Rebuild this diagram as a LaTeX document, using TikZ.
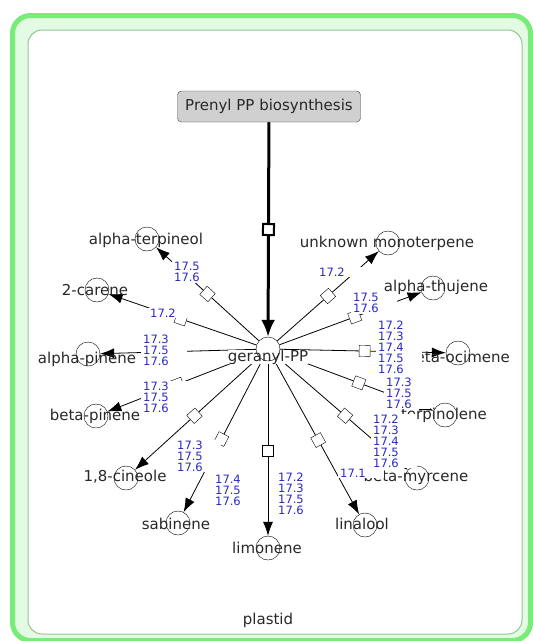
\documentclass[tikz,border=0pt]{standalone}
\usepackage{fontspec}
\setmainfont{DejaVu Sans}
\usepackage{tikz}
\usetikzlibrary{arrows.meta,positioning}
\pgfdeclarelayer{background}
\pgfsetlayers{background,main}

\definecolor{ecblue}{RGB}{40,40,200}
\definecolor{plgreen}{RGB}{120,235,120}
\definecolor{plband}{RGB}{226,251,226}
\definecolor{plline}{RGB}{150,195,150}
\definecolor{pathgray}{RGB}{208,208,208}
\definecolor{txtgray}{RGB}{40,40,40}

\begin{document}
\begin{tikzpicture}[x=1pt,y=-1pt,>={Latex[length=14pt,width=10pt]},line width=0.8pt]
\tikzstyle{spec} = [circle,draw=black,minimum size=24pt,inner sep=0pt]
\tikzstyle{spname} = [text=txtgray,font=\fontsize{15}{18}\selectfont,inner sep=0pt]
\tikzstyle{proc} = [draw=black,fill=white,minimum size=11pt,inner sep=0pt,sloped]
\tikzstyle{ec} = [anchor=west,fill=white,text=ecblue,text width=42pt,align=left,inner xsep=2pt,inner ysep=1pt,font=\fontsize{11.5}{11}\selectfont]
\useasboundingbox (0,0) rectangle (533,641);

% plastid
\begin{pgfonlayer}{background}
\draw[plgreen,line width=5pt,fill=plband,rounded corners=18pt] (12.5,15.5) rectangle (530.5,640.5);
\draw[plline,line width=1pt,fill=white,rounded corners=14pt] (28,30) rectangle (522,634);
\end{pgfonlayer}
\node[spname] (plastid) at (268,620) {plastid};

\node[draw=black!75,fill=pathgray,rounded corners=4pt,minimum width=183pt,minimum height=31pt,spname] (prenyl) at (269,106.5) {Prenyl PP biosynthesis};

\node[spname,fill=white] (gppt) at (268,357) {geranyl-PP};
\node[spec] (gpp) at (268,349) {};

% species
\node[spec] (aterp) at (147,239) {};
\node[spname] (aterpt) at (146,240) {alpha-terpineol};
\node[spec] (car2) at (97,290) {};
\node[spname] (car2t) at (95,290) {2-carene};
\node[spec] (apin) at (88,354) {};
\node[spname] (apint) at (87,359) {alpha-pinene};
\node[spec] (bpin) at (96,416) {};
\node[spname] (bpint) at (95,416) {beta-pinene};
\node[spec] (cin) at (126,478) {};
\node[spname] (cint) at (125,477) {1,8-cineole};
\node[spec] (sab) at (178,523) {};
\node[spname] (sabt) at (176,524) {sabinene};
\node[spec] (lim) at (268,548) {};
\node[spname] (limt) at (267,548) {limonene};
\node[spec] (lin) at (365,525) {};
\node[spname] (lint) at (362,524) {linalool};
\node[spec] (myr) at (417,478) {};
\node[spname] (myrt) at (416,477) {beta-myrcene};
\node[spec] (terp) at (445,415) {};
\node[spname] (terpt) at (444,415) {terpinolene};
\node[spec] (oci) at (458,353) {};
\node[spname] (ocit) at (458,357) {beta-ocimene};
\node[spec] (athu) at (433,288) {};
\node[spname] (athut) at (436,287) {alpha-thujene};
\node[spec] (unk) at (388,243) {};
\node[spname] (unkt) at (387,243) {unknown monoterpene};

\path (prenyl) -- node[proc,line width=2pt,pos=.5] (q0) {} (gpp);
\path (gpp) -- node[proc,pos=.5] (q1) {} (aterp);
\path (gpp) -- node[proc,pos=.51] (q2) {} (car2);
\path (gpp) -- node[proc,pos=.5] (q3) {} (apin);
\path (gpp) -- node[proc,pos=.53] (q4) {} (bpin);
\path (gpp) -- node[proc,pos=.52] (q5) {} (cin);
\path (gpp) -- node[proc,pos=.52] (q6) {} (sab);
\path (gpp) -- node[proc,pos=.51] (q7) {} (lim);
\path (gpp) -- node[proc,pos=.52] (q8) {} (lin);
\path (gpp) -- node[proc,pos=.52] (q9) {} (myr);
\path (gpp) -- node[proc,pos=.515] (q10) {} (terp);
\path (gpp) -- node[proc,pos=.51] (q11) {} (oci);
\path (gpp) -- node[proc,pos=.53] (q12) {} (athu);
\path (gpp) -- node[proc,pos=.5] (q13) {} (unk);

\begin{pgfonlayer}{background}
\begin{scope}[line width=0.8pt]
\tikzset{react/.style={->}}
\draw[line width=3pt] (prenyl) edge (q0) (q0) edge[-{Latex[length=17pt,width=14pt]}] (gpp);
\draw (gpp) edge (q1) (q1) edge[react] (aterp);
\draw (gpp) edge (q2) (q2) edge[react] (car2);
\draw (gpp) edge (q3) (q3) edge[react] (apin);
\draw (gpp) edge (q4) (q4) edge[react] (bpin);
\draw (gpp) edge (q5) (q5) edge[react] (cin);
\draw (gpp) edge (q6) (q6) edge[react] (sab);
\draw (gpp) edge (q7) (q7) edge[react] (lim);
\draw (gpp) edge (q8) (q8) edge[react] (lin);
\draw (gpp) edge (q9) (q9) edge[react] (myr);
\draw (gpp) edge (q10) (q10) edge[react] (terp);
\draw (gpp) edge (q11) (q11) edge[react] (oci);
\draw (gpp) edge (q12) (q12) edge[react] (athu);
\draw (gpp) edge (q13) (q13) edge[react] (unk);
\end{scope}
\end{pgfonlayer}

% enzyme numbers
\node[ec] (l1) at (172,272) {17.5\\17.6};
\node[ec] (l2) at (148,313) {17.2};
\node[ec] (l3) at (141,350) {17.3\\17.5\\17.6};
\node[ec] (l4) at (141,397) {17.3\\17.5\\17.6};
\node[ec] (l5) at (175,456) {17.3\\17.5\\17.6};
\node[ec] (l6) at (213,490) {17.4\\17.5\\17.6};
\node[ec] (l7) at (276,494) {17.2\\17.3\\17.5\\17.6};
\node[ec] (l8) at (338,473) {17.1};
\node[ec] (l9) at (371,441) {17.2\\17.3\\17.4\\17.5\\17.6};
\node[ec] (l10) at (384,393) {17.3\\17.5\\17.6};
\node[ec] (l11) at (376,347) {17.2\\17.3\\17.4\\17.5\\17.6};
\node[ec] (l12) at (351,303) {17.5\\17.6};
\node[ec] (l13) at (317,272) {17.2};
\end{tikzpicture}
\end{document}
